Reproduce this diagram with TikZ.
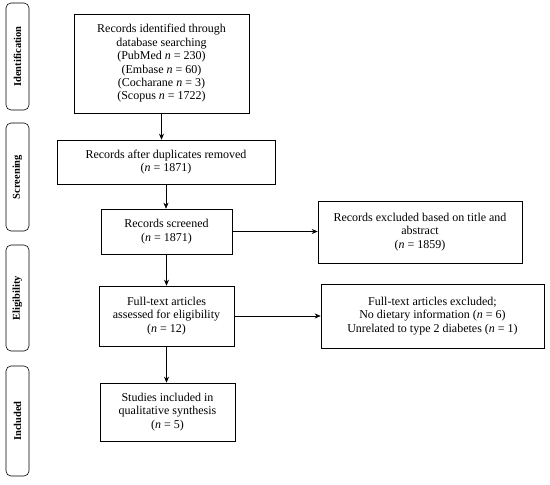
\documentclass[tikz,border=0pt]{standalone}
\usepackage{fontspec}
\setmainfont{Liberation Serif}
\usetikzlibrary{arrows.meta}
\begin{document}
\begin{tikzpicture}[x=1pt,y=-1pt,font=\fontsize{12}{13.4}\selectfont,line width=0.6pt,
  box/.style={draw,align=center,inner sep=2pt},
  phase/.style={draw,rounded corners=5pt,minimum height=23,rotate=90,inner sep=1pt,font=\fontsize{10.5}{12}\selectfont\bfseries}]
\useasboundingbox (0,0) rectangle (550,485);
\foreach \y/\h/\gt in {56.5/107/Identification,177/108/Screening,298/106/Eligibility,421/110/Included}\path (17.5,\y) node[phase,minimum width=\h](\gt){\gt};
\path (161.5,63.5) node[box,minimum width=175,minimum height=99](found){Records identified through\\database searching\\(PubMed \textit{n} = 230)\\(Embase \textit{n} = 60)\\(Cocharane \textit{n} = 3)\\(Scopus \textit{n} = 1722)};
\path (166,162) node[box,minimum width=218,minimum height=44](dupl){Records after duplicates removed\\(\textit{n} = 1871)};
\path (166.5,231.5) node[box,minimum width=131,minimum height=45](scrn){Records screened\\(\textit{n} = 1871)};
\path (166.5,316) node[box,minimum width=135,minimum height=60](full){Full-text articles\\assessed for eligibility\\(\textit{n} = 12)};
\path (167.5,412) node[box,minimum width=135,minimum height=58](incl){Studies included in\\qualitative synthesis\\(\textit{n} = 5)};
\path (420,232) node[box,minimum width=204,minimum height=62](excl){Records excluded based on title and\\abstract\\(\textit{n} = 1859)};
\path (432.5,316) node[box,minimum width=223,minimum height=64](drop){Full-text articles excluded;\\No dietary information (\textit{n} = 6)\\Unrelated to type 2 diabetes (\textit{n} = 1)};
\foreach \a/\b in {found/dupl,dupl/scrn,scrn/full,full/incl}\draw[-{Stealth[length=6pt,width=5pt]}] (\a) -- (\a |- \b.north);
\foreach \a/\b in {scrn/excl,full/drop}\draw[-{Stealth[length=6pt,width=5pt]}] (\a) -- (\a -| \b.west);
\end{tikzpicture}
\end{document}
